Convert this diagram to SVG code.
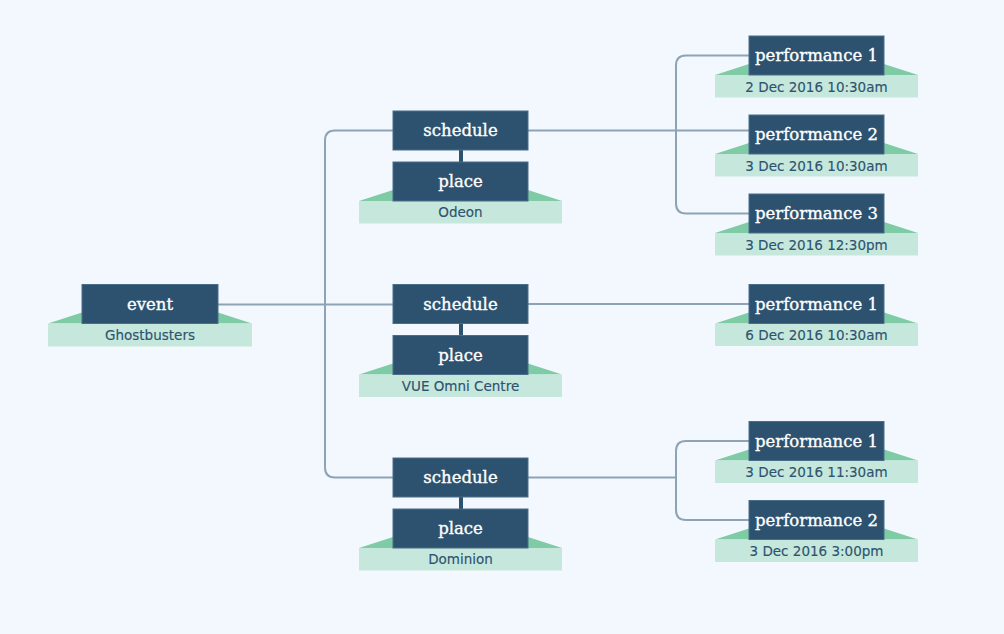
<svg xmlns="http://www.w3.org/2000/svg" width="1004" height="634" viewBox="0 0 1004 634">
<style>
.bg{fill:#f2f8fd}
.box{fill:#2d5270;stroke:#4a6d89;stroke-width:1}
.trap{fill:#7ecba6}
.band{fill:#c6e8dc}
.lbl{font-family:"DejaVu Serif",serif;font-size:16.5px;fill:#ffffff;stroke:#ffffff;stroke-width:0.35;text-anchor:middle}
.sub{font-family:"DejaVu Sans",sans-serif;font-size:13.5px;fill:#2e5370;stroke:#2e5370;stroke-width:0.15;text-anchor:middle}
.link{fill:none;stroke:#8ea3b5;stroke-width:2}
.stem{fill:#2d5270}
</style>
<rect class="bg" x="0" y="0" width="1004" height="634"/>
<g id="connectors">
<path class="link" d="M218 304.5 H393"/>
<path class="link" d="M393 130.5 H335 Q325 130.5 325 140.5 V467.5 Q325 477.5 335 477.5 H393"/>
<path class="link" d="M528 130.5 H749"/>
<path class="link" d="M749 55.5 H686 Q676 55.5 676 65.5 V203.5 Q676 213.5 686 213.5 H749"/>
<path class="link" d="M528 304 H749"/>
<path class="link" d="M528 477.5 H676"/>
<path class="link" d="M749 441 H686 Q676 441 676 451 V510 Q676 520 686 520 H749"/>
<rect class="stem" x="459" y="150" width="4" height="12"/>
<rect class="stem" x="459" y="323.5" width="4" height="12"/>
<rect class="stem" x="459" y="497" width="4" height="12"/>
</g>
<g id="event">
<polygon class="trap" points="48,323.5 82,312.5 218,312.5 252,323.5"/>
<rect class="band" x="48" y="323.5" width="204" height="23"/>
<rect class="box" x="82" y="284.5" width="136" height="39"/>
<text class="lbl" x="150" y="309.5">event</text>
<text class="sub" x="150" y="340">Ghostbusters</text>
</g>
<g id="schedule1">
<rect class="box" x="393" y="111" width="135" height="39"/>
<text class="lbl" x="460.5" y="136">schedule</text>
</g>
<g id="place1">
<polygon class="trap" points="359,201 393,190 528,190 562,201"/>
<rect class="band" x="359" y="201" width="203" height="22.5"/>
<rect class="box" x="393" y="162" width="135" height="39"/>
<text class="lbl" x="460.5" y="187">place</text>
<text class="sub" x="460.5" y="217">Odeon</text>
</g>
<g id="schedule2">
<rect class="box" x="393" y="284.5" width="135" height="39"/>
<text class="lbl" x="460.5" y="309.5">schedule</text>
</g>
<g id="place2">
<polygon class="trap" points="359,374.5 393,363.5 528,363.5 562,374.5"/>
<rect class="band" x="359" y="374.5" width="203" height="22.5"/>
<rect class="box" x="393" y="335.5" width="135" height="39"/>
<text class="lbl" x="460.5" y="360.5">place</text>
<text class="sub" x="460.5" y="390.5">VUE Omni Centre</text>
</g>
<g id="schedule3">
<rect class="box" x="393" y="458" width="135" height="39"/>
<text class="lbl" x="460.5" y="483">schedule</text>
</g>
<g id="place3">
<polygon class="trap" points="359,548 393,537 528,537 562,548"/>
<rect class="band" x="359" y="548" width="203" height="22.5"/>
<rect class="box" x="393" y="509" width="135" height="39"/>
<text class="lbl" x="460.5" y="534">place</text>
<text class="sub" x="460.5" y="564">Dominion</text>
</g>
<g id="perf1a">
<polygon class="trap" points="715,75 749,64 884,64 918,75"/>
<rect class="band" x="715" y="75" width="203" height="22.5"/>
<rect class="box" x="749" y="36" width="135" height="39"/>
<text class="lbl" x="816.5" y="61">performance 1</text>
<text class="sub" x="816.5" y="91.5">2 Dec 2016 10:30am</text>
</g>
<g id="perf1b">
<polygon class="trap" points="715,154 749,143 884,143 918,154"/>
<rect class="band" x="715" y="154" width="203" height="22.5"/>
<rect class="box" x="749" y="115" width="135" height="39"/>
<text class="lbl" x="816.5" y="140">performance 2</text>
<text class="sub" x="816.5" y="170.5">3 Dec 2016 10:30am</text>
</g>
<g id="perf1c">
<polygon class="trap" points="715,233 749,222 884,222 918,233"/>
<rect class="band" x="715" y="233" width="203" height="22.5"/>
<rect class="box" x="749" y="194" width="135" height="39"/>
<text class="lbl" x="816.5" y="219">performance 3</text>
<text class="sub" x="816.5" y="249.5">3 Dec 2016 12:30pm</text>
</g>
<g id="perf2a">
<polygon class="trap" points="715,323.5 749,312.5 884,312.5 918,323.5"/>
<rect class="band" x="715" y="323.5" width="203" height="22.5"/>
<rect class="box" x="749" y="284.5" width="135" height="39"/>
<text class="lbl" x="816.5" y="309.5">performance 1</text>
<text class="sub" x="816.5" y="340">6 Dec 2016 10:30am</text>
</g>
<g id="perf3a">
<polygon class="trap" points="715,460.5 749,449.5 884,449.5 918,460.5"/>
<rect class="band" x="715" y="460.5" width="203" height="22.5"/>
<rect class="box" x="749" y="421.5" width="135" height="39"/>
<text class="lbl" x="816.5" y="446.5">performance 1</text>
<text class="sub" x="816.5" y="477">3 Dec 2016 11:30am</text>
</g>
<g id="perf3b">
<polygon class="trap" points="715,539.5 749,528.5 884,528.5 918,539.5"/>
<rect class="band" x="715" y="539.5" width="203" height="22.5"/>
<rect class="box" x="749" y="500.5" width="135" height="39"/>
<text class="lbl" x="816.5" y="525.5">performance 2</text>
<text class="sub" x="816.5" y="556">3 Dec 2016 3:00pm</text>
</g>
</svg>
